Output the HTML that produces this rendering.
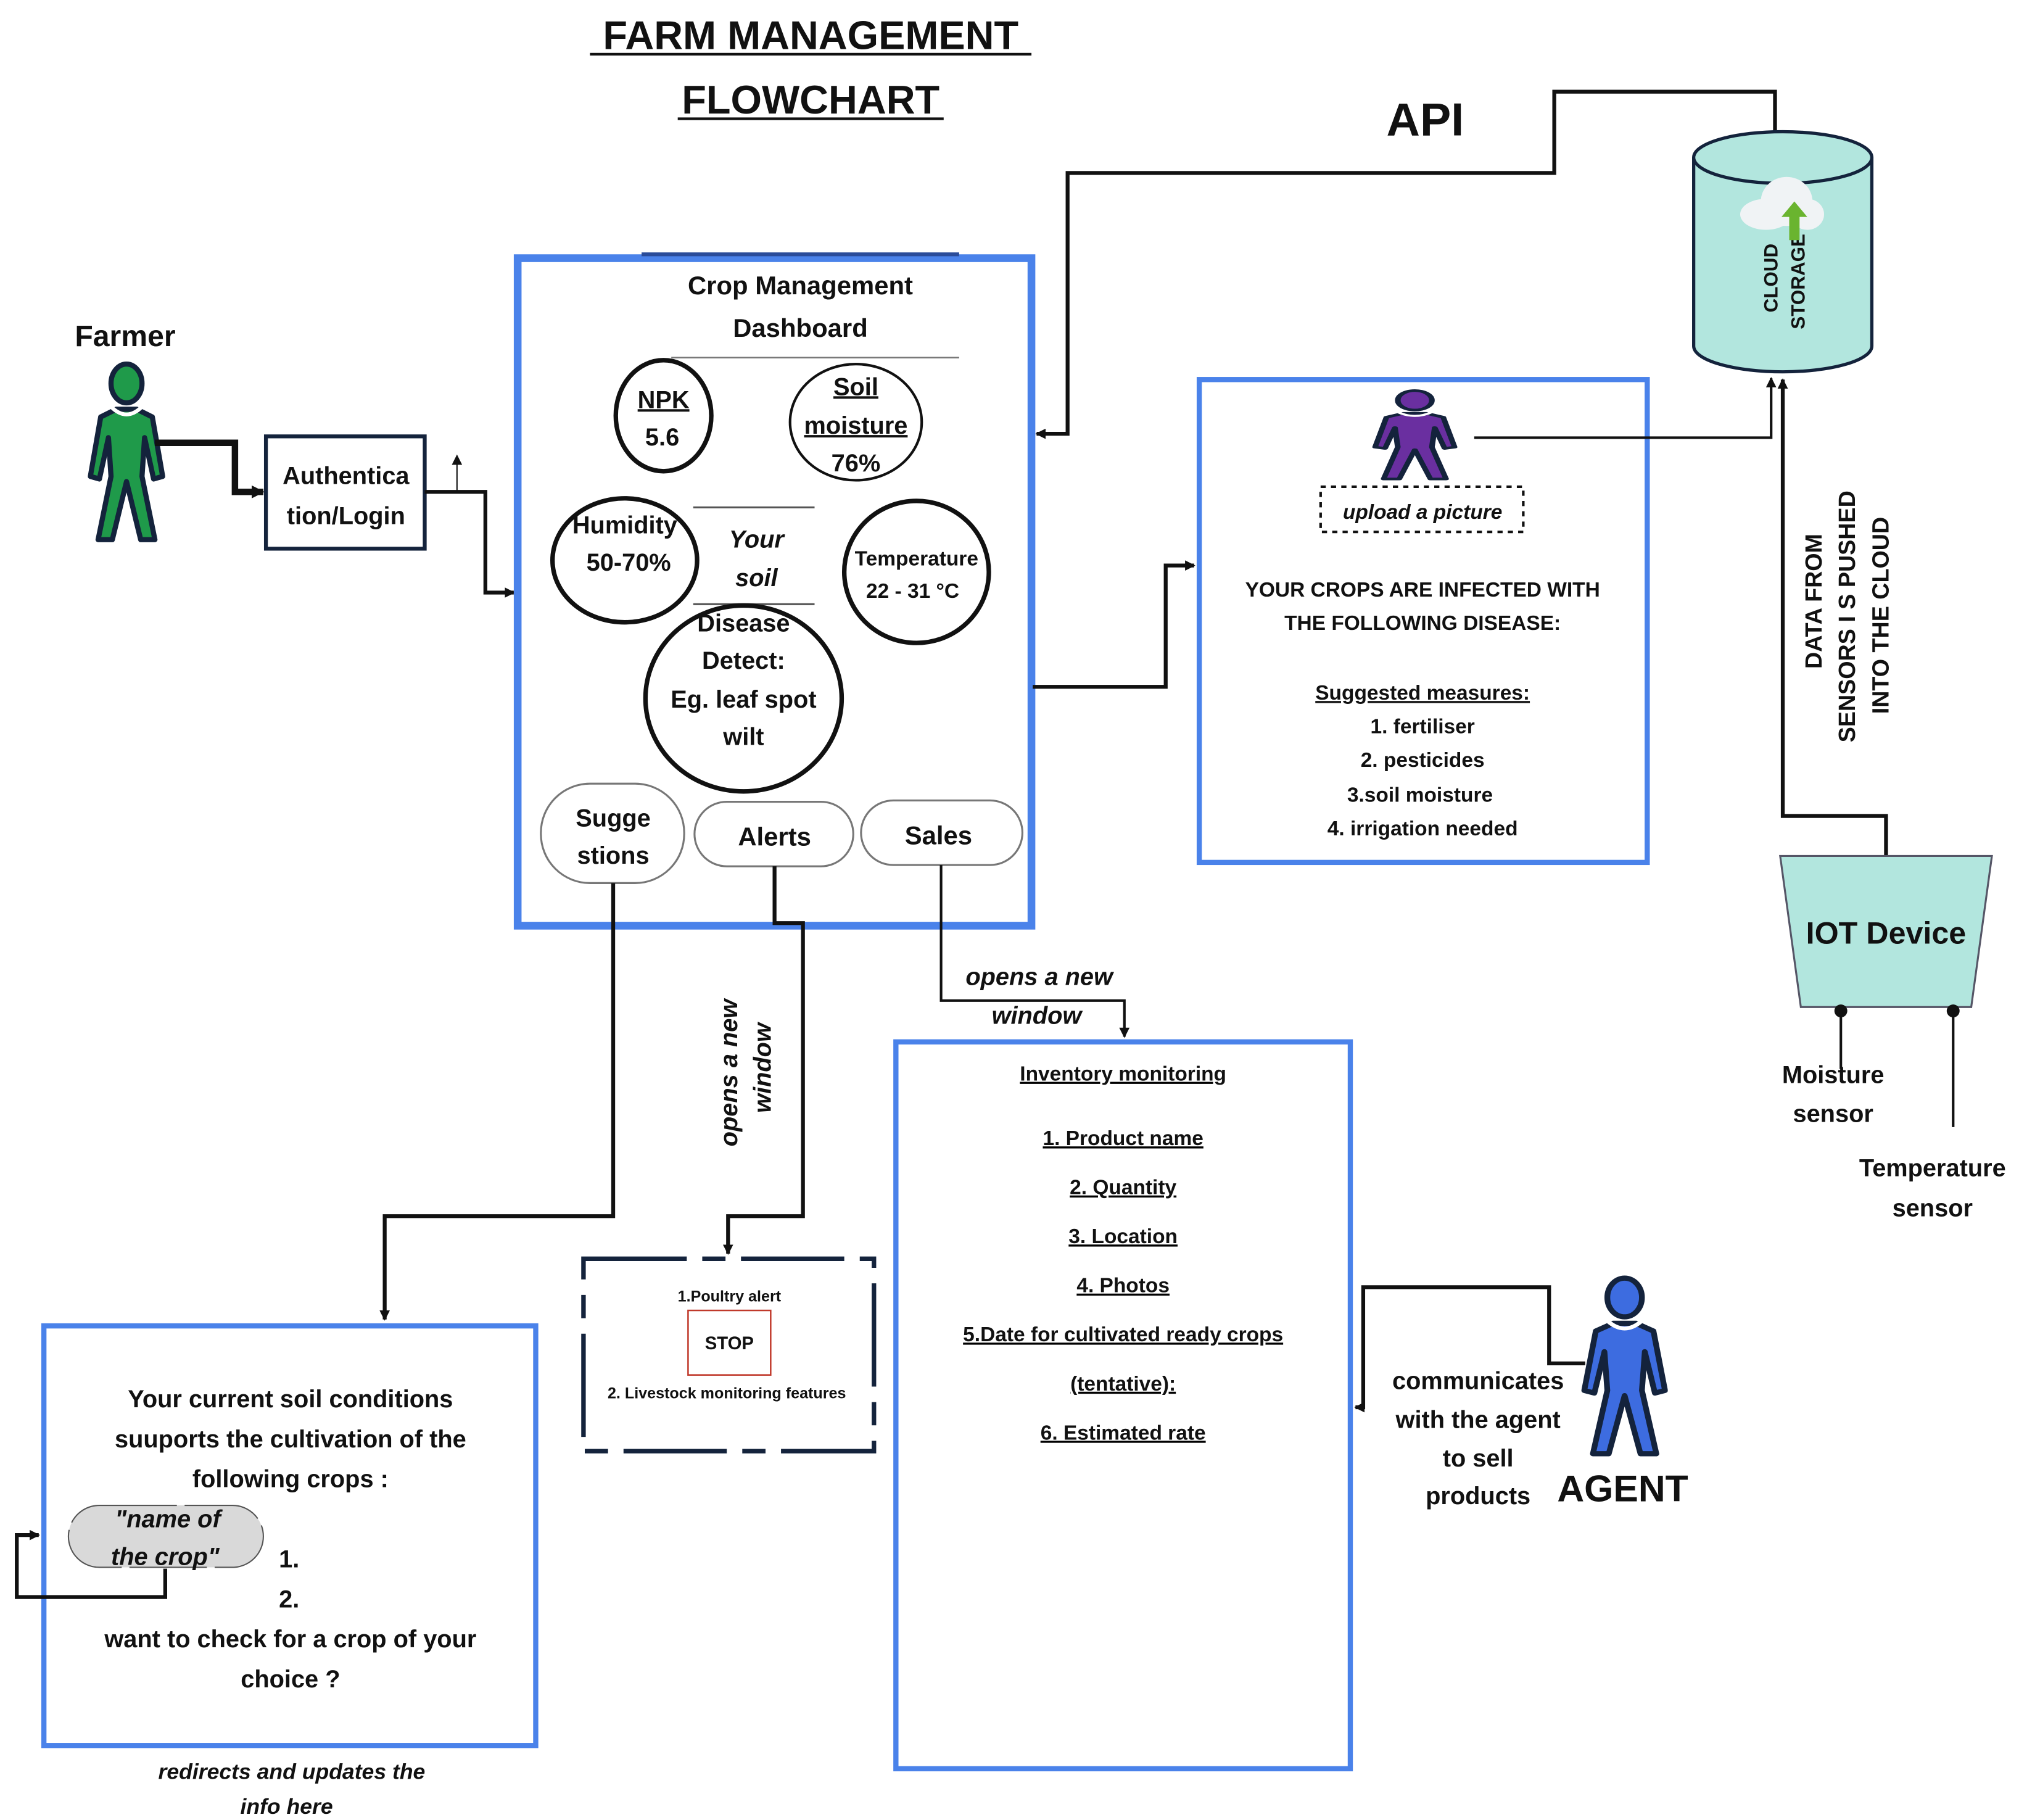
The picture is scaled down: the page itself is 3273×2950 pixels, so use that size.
<!DOCTYPE html>
<html><head><meta charset="utf-8"><style>
html,body{margin:0;padding:0;background:#fff;}
svg{display:block;}
text{font-family:"Liberation Sans",Arial,sans-serif;font-weight:bold;fill:#111;}
</style></head><body>
<svg width="3273" height="2950" viewBox="0 0 1564 1409.7" preserveAspectRatio="none" xmlns="http://www.w3.org/2000/svg">
<defs>
<marker id="ah" markerWidth="8" markerHeight="8" refX="7" refY="4" orient="auto" markerUnits="userSpaceOnUse"><path d="M0,0 L8,4 L0,8 z" fill="#111"/></marker>
<marker id="ahs" markerWidth="10" markerHeight="10" refX="9" refY="5" orient="auto" markerUnits="userSpaceOnUse"><path d="M0,0 L10,5 L0,10 z" fill="#111"/></marker>
<symbol id="person" viewBox="0 0 60 145" preserveAspectRatio="none">
<path d="M22,40 L38,40 L50,46 L58,92 L51,94 L44,62 L42,92 L52,141 L41,141 L30,96 L19,141 L8,141 L18,92 L16,62 L9,94 L2,92 L10,46 Z" stroke="#14233c" stroke-width="4" stroke-linejoin="round"/>
<ellipse cx="30" cy="20" rx="12" ry="15" stroke="#14233c" stroke-width="4"/>
<path d="M18,38 Q30,50 42,38" fill="none" stroke="#fff" stroke-width="3"/>
</symbol>
</defs>

<!-- Title -->
<text x="628" y="38" font-size="31" text-anchor="middle">FARM MANAGEMENT</text>
<line x1="457" y1="42" x2="799" y2="42" stroke="#111" stroke-width="2"/>
<text x="628" y="88" font-size="31" text-anchor="middle">FLOWCHART</text>
<line x1="525" y1="92" x2="731" y2="92" stroke="#111" stroke-width="2"/>
<text x="1104" y="105" font-size="36" text-anchor="middle">API</text>

<!-- Farmer -->
<text x="97" y="268" font-size="23" text-anchor="middle">Farmer</text>
<use href="#person" x="68" y="277" width="60" height="145" fill="#1f9a4a"/>
<polyline points="120,343 182,343 182,381 204,381" fill="none" stroke="#111" stroke-width="5" marker-end="url(#ahs)"/>

<!-- Auth -->
<rect x="206" y="338" width="123" height="87" fill="#fff" stroke="#14233c" stroke-width="3"/>
<text x="268" y="375" font-size="19" text-anchor="middle">Authentica</text>
<text x="268" y="406" font-size="19" text-anchor="middle">tion/Login</text>
<line x1="354" y1="380" x2="354" y2="353" stroke="#111" stroke-width="1" marker-end="url(#ah)"/>
<polyline points="329,381 376,381 376,459 398,459" fill="none" stroke="#111" stroke-width="3" marker-end="url(#ah)"/>

<!-- Dashboard -->
<rect x="401" y="200" width="398" height="517" fill="#fff" stroke="#4a82ea" stroke-width="6"/>
<line x1="497" y1="197" x2="743" y2="197" stroke="#2a4c9a" stroke-width="3"/>
<text x="620" y="228" font-size="20" text-anchor="middle">Crop Management</text>
<text x="620" y="261" font-size="20" text-anchor="middle">Dashboard</text>
<line x1="520" y1="277" x2="743" y2="277" stroke="#777" stroke-width="1.2"/>
<ellipse cx="514" cy="322" rx="37" ry="43" fill="#fff" stroke="#111" stroke-width="3.5"/>
<text x="514" y="316" font-size="19" text-anchor="middle" text-decoration="underline">NPK</text>
<text x="513" y="345" font-size="19" text-anchor="middle">5.6</text>
<ellipse cx="663" cy="327" rx="51" ry="45" fill="#fff" stroke="#111" stroke-width="2"/>
<text x="663" y="306" font-size="19" text-anchor="middle" text-decoration="underline">Soil</text>
<text x="663" y="336" font-size="19" text-anchor="middle" text-decoration="underline">moisture</text>
<text x="663" y="365" font-size="19" text-anchor="middle">76%</text>
<line x1="537" y1="393" x2="631" y2="393" stroke="#555" stroke-width="1.5"/>
<line x1="537" y1="468" x2="631" y2="468" stroke="#555" stroke-width="1.5"/>
<text x="586" y="424" font-size="19" text-anchor="middle" font-style="italic">Your</text>
<text x="586" y="454" font-size="19" text-anchor="middle" font-style="italic">soil</text>
<ellipse cx="484" cy="434" rx="56" ry="48" fill="#fff" stroke="#111" stroke-width="3.5"/>
<text x="484" y="413" font-size="19" text-anchor="middle">Humidity</text>
<text x="487" y="442" font-size="19" text-anchor="middle">50-70%</text>
<ellipse cx="710" cy="443" rx="56" ry="55" fill="#fff" stroke="#111" stroke-width="3.5"/>
<text x="710" y="438" font-size="16" text-anchor="middle">Temperature</text>
<text x="707" y="463" font-size="16" text-anchor="middle">22 - 31 °C</text>
<ellipse cx="576" cy="541" rx="76" ry="72" fill="#fff" stroke="#111" stroke-width="3.5"/>
<text x="576" y="489" font-size="19" text-anchor="middle">Disease</text>
<text x="576" y="518" font-size="19" text-anchor="middle">Detect:</text>
<text x="576" y="548" font-size="19" text-anchor="middle">Eg. leaf spot</text>
<text x="576" y="577" font-size="19" text-anchor="middle">wilt</text>
<rect x="419" y="607" width="111" height="77" rx="38" fill="#fff" stroke="#777" stroke-width="1.5"/>
<text x="475" y="640" font-size="19" text-anchor="middle">Sugge</text>
<text x="475" y="669" font-size="19" text-anchor="middle">stions</text>
<rect x="538" y="621" width="123" height="50" rx="25" fill="#fff" stroke="#777" stroke-width="1.5"/>
<text x="600" y="655" font-size="20" text-anchor="middle">Alerts</text>
<rect x="667" y="620" width="125" height="50" rx="25" fill="#fff" stroke="#777" stroke-width="1.5"/>
<text x="727" y="654" font-size="20" text-anchor="middle">Sales</text>

<!-- API connector -->
<polyline points="1375,103 1375,71 1204,71 1204,134 827,134 827,336 803,336" fill="none" stroke="#111" stroke-width="3" marker-end="url(#ah)"/>

<!-- Cloud storage cylinder -->
<path d="M1312,122 L1312,268 A69,20 0 0 0 1450,268 L1450,122" fill="#b2e6de" stroke="#14233c" stroke-width="2.5"/>
<ellipse cx="1381" cy="122" rx="69" ry="20" fill="#b2e6de" stroke="#14233c" stroke-width="2.5"/>
<text transform="translate(1377,242) rotate(-90)" font-size="15">CLOUD</text>
<text transform="translate(1398,255) rotate(-90)" font-size="15">STORAGE</text>
<ellipse cx="1368" cy="166" rx="20" ry="12" fill="#f0f3f5"/>
<ellipse cx="1384" cy="156" rx="20" ry="19" fill="#f0f3f5"/>
<ellipse cx="1400" cy="166" rx="13" ry="12" fill="#f0f3f5"/>
<path d="M1386,186 L1386,168 L1380,168 L1390,156 L1400,168 L1394,168 L1394,186 Z" fill="#6ab42f"/>

<!-- Disease box -->
<rect x="929" y="294" width="347" height="374" fill="#fff" stroke="#4a82ea" stroke-width="4"/>
<use href="#person" x="1063" y="300" width="66" height="73" fill="#6a2fa0"/>
<polyline points="1142,339 1372,339 1372,293" fill="none" stroke="#111" stroke-width="2" marker-end="url(#ah)"/>
<rect x="1023" y="377" width="157" height="35" fill="#fff" stroke="#111" stroke-width="2" stroke-dasharray="4,4"/>
<text x="1102" y="402" font-size="16" text-anchor="middle" font-style="italic">upload a picture</text>
<text x="1102" y="462" font-size="16" text-anchor="middle">YOUR CROPS ARE INFECTED WITH</text>
<text x="1102" y="488" font-size="16" text-anchor="middle">THE FOLLOWING DISEASE:</text>
<text x="1102" y="542" font-size="16" text-anchor="middle" text-decoration="underline">Suggested measures:</text>
<text x="1102" y="568" font-size="16" text-anchor="middle">1. fertiliser</text>
<text x="1102" y="594" font-size="16" text-anchor="middle">2. pesticides</text>
<text x="1100" y="621" font-size="16" text-anchor="middle">3.soil moisture</text>
<text x="1102" y="647" font-size="16" text-anchor="middle">4. irrigation needed</text>
<polyline points="800,532 903,532 903,438 925,438" fill="none" stroke="#111" stroke-width="3" marker-end="url(#ah)"/>

<!-- IoT -->
<polyline points="1461,663 1461,632 1381,632 1381,294" fill="none" stroke="#111" stroke-width="3" marker-end="url(#ah)"/>
<text transform="translate(1411,518) rotate(-90)" font-size="18">DATA    FROM</text>
<text transform="translate(1437,575) rotate(-90)" font-size="18">SENSORS I S PUSHED</text>
<text transform="translate(1463,553) rotate(-90)" font-size="18">INTO THE CLOUD</text>
<polygon points="1379,663 1543,663 1527,780 1395,780" fill="#b2e6de" stroke="#556" stroke-width="1.5"/>
<text x="1461" y="731" font-size="24" text-anchor="middle">IOT Device</text>
<circle cx="1426" cy="783" r="5" fill="#111"/>
<circle cx="1513" cy="783" r="5" fill="#111"/>
<line x1="1426" y1="783" x2="1426" y2="828" stroke="#111" stroke-width="2"/>
<line x1="1513" y1="783" x2="1513" y2="873" stroke="#111" stroke-width="2"/>
<text x="1420" y="839" font-size="19" text-anchor="middle">Moisture</text>
<text x="1420" y="869" font-size="19" text-anchor="middle">sensor</text>
<text x="1497" y="911" font-size="19" text-anchor="middle">Temperature</text>
<text x="1497" y="942" font-size="19" text-anchor="middle">sensor</text>

<!-- Sales -> inventory -->
<polyline points="729,670 729,775 871,775 871,803" fill="none" stroke="#111" stroke-width="2" marker-end="url(#ah)"/>
<text x="805" y="763" font-size="19" text-anchor="middle" font-style="italic">opens a new</text>
<text x="803" y="793" font-size="19" text-anchor="middle" font-style="italic">window</text>

<!-- Alerts -> poultry -->
<polyline points="600,671 600,715 622,715 622,942 564,942 564,971" fill="none" stroke="#111" stroke-width="3" marker-end="url(#ah)"/>
<text transform="translate(571,888) rotate(-90)" font-size="19" font-style="italic">opens a new</text>
<text transform="translate(597,862) rotate(-90)" font-size="19" font-style="italic">window</text>

<!-- Suggestions -> soil box -->
<polyline points="475,684 475,942 298,942 298,1022" fill="none" stroke="#111" stroke-width="3" marker-end="url(#ah)"/>

<!-- Poultry box -->
<rect x="452" y="975" width="225" height="149" fill="#fff" stroke="#14233c" stroke-width="3.5" stroke-dasharray="80,12,18,12"/>
<text x="565" y="1008" font-size="12" text-anchor="middle">1.Poultry alert</text>
<rect x="533" y="1015" width="64" height="50" fill="#fff" stroke="#c0392b" stroke-width="1.2"/>
<text x="565" y="1045" font-size="14" text-anchor="middle">STOP</text>
<text x="563" y="1083" font-size="12" text-anchor="middle">2. Livestock monitoring features</text>

<!-- Soil box -->
<rect x="34" y="1027" width="381" height="325" fill="#fff" stroke="#4a82ea" stroke-width="4"/>
<text x="225" y="1090" font-size="19" text-anchor="middle">Your current soil conditions</text>
<text x="225" y="1121" font-size="19" text-anchor="middle">suuports the cultivation of the</text>
<text x="225" y="1152" font-size="19" text-anchor="middle">following crops :</text>
<rect x="53" y="1166" width="151" height="48" rx="24" fill="#d9d9d9" stroke="#555" stroke-width="1" stroke-dasharray="60,6"/>
<text x="130" y="1183" font-size="19" text-anchor="middle" font-style="italic">"name of</text>
<text x="128" y="1212" font-size="19" text-anchor="middle" font-style="italic">the crop"</text>
<polyline points="128,1215 128,1237 13,1237 13,1189 30,1189" fill="none" stroke="#111" stroke-width="3" marker-end="url(#ah)"/>
<text x="224" y="1214" font-size="19" text-anchor="middle">1.</text>
<text x="224" y="1245" font-size="19" text-anchor="middle">2.</text>
<text x="225" y="1276" font-size="19" text-anchor="middle">want to check for a crop of your</text>
<text x="225" y="1307" font-size="19" text-anchor="middle">choice ?</text>
<text x="226" y="1378" font-size="17" text-anchor="middle" font-style="italic">redirects and updates the</text>
<text x="222" y="1405" font-size="17" text-anchor="middle" font-style="italic">info  here</text>

<!-- Inventory box -->
<rect x="694" y="807" width="352" height="563" fill="#fff" stroke="#4a82ea" stroke-width="4"/>
<g font-size="16" text-anchor="middle" text-decoration="underline">
<text x="870" y="837">Inventory monitoring</text>
<text x="870" y="887">1. Product name</text>
<text x="870" y="925">2. Quantity</text>
<text x="870" y="963">3. Location </text>
<text x="870" y="1001">4. Photos </text>
<text x="870" y="1039">5.Date for cultivated ready crops</text>
<text x="870" y="1077">(tentative):</text>
<text x="870" y="1115">6. Estimated rate</text>
</g>

<!-- Agent -->
<polyline points="1228,1056 1200,1056 1200,997 1056,997 1056,1090 1050,1090" fill="none" stroke="#111" stroke-width="3" marker-end="url(#ah)"/>
<use href="#person" x="1225" y="985" width="67" height="145" fill="#3d6ce0"/>
<text x="1145" y="1076" font-size="19" text-anchor="middle">communicates</text>
<text x="1145" y="1106" font-size="19" text-anchor="middle">with the agent</text>
<text x="1145" y="1136" font-size="19" text-anchor="middle">to sell</text>
<text x="1145" y="1165" font-size="19" text-anchor="middle">products</text>
<text x="1257" y="1163" font-size="29" text-anchor="middle" font-weight="normal">AGENT</text>
</svg>
</body></html>
